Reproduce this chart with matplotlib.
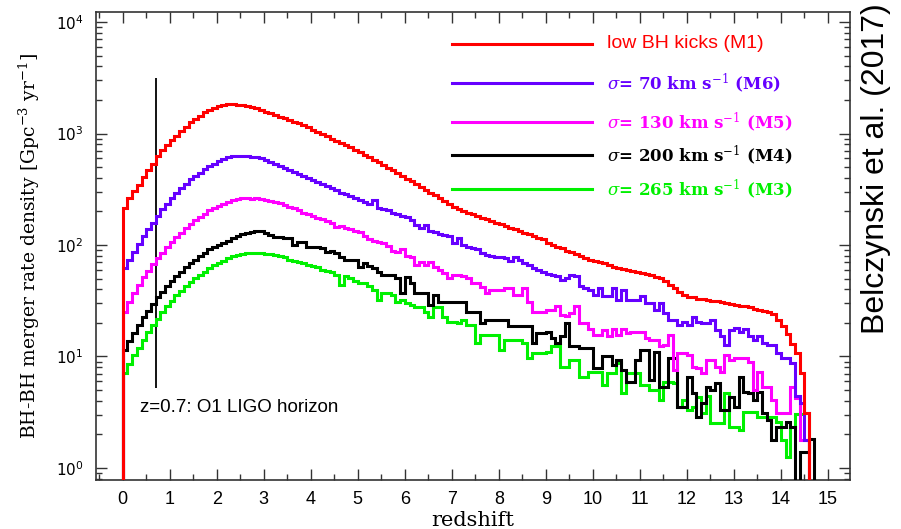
import numpy as np
import matplotlib
matplotlib.use('Agg')
import matplotlib.pyplot as plt
from matplotlib.ticker import MultipleLocator, LogLocator, LogFormatterMathtext, NullFormatter

plt.rcParams['mathtext.fontset'] = 'dejavuserif'

# merger rate per redshift bin, stored as log10(rate / Gpc^-3 yr^-1), bins of 0.1 from z=0
bin_width = 0.1

log_rate_m1 = [
    2.33, 2.42, 2.48, 2.54, 2.61, 2.67, 2.73, 2.80, 2.85, 2.90,
    2.94, 2.98, 3.02, 3.06, 3.10, 3.13, 3.16, 3.19, 3.21, 3.23,
    3.245, 3.255, 3.265, 3.265, 3.26, 3.255, 3.245, 3.235, 3.225, 3.21,
    3.195, 3.18, 3.165, 3.15, 3.135, 3.12, 3.105, 3.09, 3.075, 3.06,
    3.03, 3.015, 2.995, 2.975, 2.955, 2.935, 2.915, 2.895, 2.875, 2.855,
    2.835, 2.81, 2.79, 2.765, 2.745, 2.72, 2.695, 2.67, 2.645, 2.62,
    2.595, 2.57, 2.545, 2.52, 2.495, 2.47, 2.445, 2.42, 2.395, 2.37,
    2.345, 2.325, 2.305, 2.29, 2.275, 2.26, 2.245, 2.23, 2.215, 2.20,
    2.185, 2.17, 2.155, 2.14, 2.125, 2.11, 2.095, 2.08, 2.065, 2.05,
    2.02, 2.00, 1.985, 1.97, 1.95, 1.935, 1.915, 1.90, 1.885, 1.87,
    1.855, 1.845, 1.835, 1.82, 1.805, 1.795, 1.785, 1.775, 1.765, 1.76,
    1.75, 1.74, 1.73, 1.715, 1.70, 1.675, 1.645, 1.61, 1.58, 1.555,
    1.535, 1.53, 1.52, 1.515, 1.51, 1.50, 1.495, 1.49, 1.48, 1.47,
    1.46, 1.455, 1.45, 1.44, 1.43, 1.42, 1.41, 1.40, 1.38, 1.33,
    1.27, 1.20, 1.11, 1.03, 0.85, 0.49,
]

log_rate_m6 = [
    1.79, 1.87, 1.94, 2.01, 2.08, 2.14, 2.20, 2.26, 2.32, 2.37,
    2.42, 2.47, 2.51, 2.55, 2.59, 2.62, 2.65, 2.68, 2.71, 2.73,
    2.75, 2.77, 2.785, 2.795, 2.80, 2.80, 2.795, 2.79, 2.785, 2.78,
    2.76, 2.745, 2.73, 2.71, 2.69, 2.675, 2.655, 2.635, 2.615, 2.60,
    2.585, 2.565, 2.545, 2.53, 2.51, 2.495, 2.465, 2.46, 2.44, 2.42,
    2.40, 2.385, 2.37, 2.40, 2.335, 2.32, 2.31, 2.29, 2.275, 2.26,
    2.25, 2.22, 2.18, 2.15, 2.18, 2.13, 2.12, 2.10, 2.09, 2.085,
    2.02, 2.06, 2.00, 1.98, 1.97, 1.96, 1.93, 1.91, 1.90, 1.89,
    1.89, 1.88, 1.86, 1.89, 1.87, 1.84, 1.82, 1.79, 1.78, 1.76,
    1.74, 1.73, 1.72, 1.69, 1.70, 1.73, 1.72, 1.63, 1.61, 1.60,
    1.55, 1.61, 1.54, 1.54, 1.61, 1.51, 1.60, 1.51, 1.51, 1.51,
    1.54, 1.48, 1.48, 1.42, 1.48, 1.39, 1.33, 1.33, 1.28, 1.31,
    1.28, 1.35, 1.31, 1.30, 1.30, 1.33, 1.24, 1.18, 1.10, 1.24,
    1.26, 1.22, 1.25, 1.18, 1.15, 1.18, 1.12, 1.10, 1.10, 1.03,
    0.99, 0.99, 0.94, 0.65, 0.58, 0.25,
]

log_rate_m5 = [
    1.40, 1.49, 1.57, 1.64, 1.71, 1.77, 1.83, 1.88, 1.93, 1.98,
    2.03, 2.07, 2.11, 2.15, 2.19, 2.22, 2.25, 2.28, 2.31, 2.33,
    2.35, 2.37, 2.39, 2.405, 2.415, 2.42, 2.42, 2.415, 2.42, 2.41,
    2.40, 2.395, 2.385, 2.375, 2.36, 2.345, 2.33, 2.315, 2.29, 2.275,
    2.26, 2.245, 2.23, 2.215, 2.20, 2.16, 2.17, 2.155, 2.14, 2.13,
    2.12, 2.08, 2.05, 2.04, 2.03, 2.02, 1.99, 1.95, 1.94, 1.96,
    1.90, 1.89, 1.82, 1.85, 1.82, 1.85, 1.80, 1.78, 1.75, 1.70,
    1.73, 1.73, 1.72, 1.70, 1.66, 1.66, 1.62, 1.57, 1.60, 1.60,
    1.60, 1.61, 1.61, 1.55, 1.55, 1.61, 1.49, 1.40, 1.40, 1.40,
    1.42, 1.42, 1.45, 1.37, 1.36, 1.39, 1.45, 1.30, 1.30, 1.25,
    1.19, 1.19, 1.24, 1.18, 1.25, 1.19, 1.25, 1.21, 1.22, 1.22,
    1.22, 1.17, 1.15, 1.15, 1.09, 1.10, 1.19, 0.88, 1.03, 1.03,
    1.01, 0.91, 0.90, 0.85, 0.97, 0.97, 0.91, 0.86, 1.01, 0.97,
    0.99, 0.99, 0.99, 0.95, 0.70, 0.86, 0.73, 0.73, 0.61, 0.49,
    0.49, 0.49, 0.73, 0.63, 0.25, 0.25,
]

# -3 marks an empty bin (falls below the axis)
log_rate_m4 = [
    1.06, 1.14, 1.21, 1.28, 1.35, 1.41, 1.47, 1.53, 1.58, 1.63,
    1.68, 1.72, 1.76, 1.80, 1.84, 1.87, 1.90, 1.93, 1.96, 1.98,
    2.00, 2.02, 2.04, 2.06, 2.08, 2.095, 2.11, 2.115, 2.125, 2.13,
    2.11, 2.09, 2.07, 2.07, 2.06, 2.06, 2.00, 2.03, 2.03, 1.98,
    1.98, 1.98, 1.97, 1.94, 1.95, 1.93, 1.89, 1.87, 1.87, 1.87,
    1.80, 1.84, 1.81, 1.79, 1.76, 1.73, 1.73, 1.73, 1.70, 1.57,
    1.71, 1.66, 1.57, 1.57, 1.57, 1.46, 1.55, 1.49, 1.49, 1.49,
    1.49, 1.49, 1.49, 1.40, 1.40, 1.40, 1.30, 1.33, 1.33, 1.33,
    1.33, 1.33, 1.27, 1.27, 1.27, 1.27, 1.27, 1.12, 1.21, 1.21,
    1.22, 1.17, 1.12, 1.18, 1.30, 1.09, 1.09, 1.08, 1.08, 1.08,
    0.90, 0.90, 1.00, 1.00, 0.92, 0.97, 0.88, 0.77, 0.77, 0.97,
    1.06, 1.06, 0.79, 1.04, 0.73, 0.73, 0.99, 0.99, 0.55, 0.55,
    0.82, 0.67, 0.46, 0.58, 0.73, 0.70, 0.76, 0.52, 0.52, 0.64,
    0.55, 0.82, 0.68, 0.67, 0.61, 0.68, 0.49, 0.43, 0.25, 0.37,
    0.37, 0.41, 0.37, -3.0, 0.14, 0.14, 0.26,
]

log_rate_m3 = [
    0.85, 0.93, 1.01, 1.08, 1.15, 1.22, 1.28, 1.34, 1.40, 1.45,
    1.50, 1.55, 1.59, 1.63, 1.67, 1.70, 1.73, 1.76, 1.79, 1.82,
    1.84, 1.86, 1.88, 1.90, 1.91, 1.92, 1.925, 1.93, 1.93, 1.925,
    1.92, 1.915, 1.91, 1.90, 1.89, 1.87, 1.86, 1.85, 1.84, 1.82,
    1.81, 1.80, 1.78, 1.77, 1.76, 1.73, 1.64, 1.72, 1.70, 1.68,
    1.66, 1.66, 1.63, 1.60, 1.51, 1.57, 1.57, 1.55, 1.49, 1.51,
    1.48, 1.46, 1.44, 1.44, 1.40, 1.35, 1.44, 1.44, 1.35, 1.31,
    1.31, 1.30, 1.33, 1.28, 1.28, 1.12, 1.19, 1.19, 1.19, 1.19,
    1.06, 1.15, 1.15, 1.15, 1.15, 1.12, 0.99, 1.03, 1.03, 1.03,
    1.04, 1.09, 1.09, 0.91, 0.91, 0.97, 0.97, 0.82, 0.82, 0.86,
    0.86, 0.86, 0.74, 0.85, 0.85, 0.94, 0.67, 0.85, 0.85, 0.85,
    0.74, 0.74, 0.70, 0.70, 0.61, 0.77, 0.77, 0.76, 0.55, 0.61,
    0.52, 0.55, 0.64, 0.49, 0.65, 0.40, 0.40, 0.40, 0.67, 0.37,
    0.37, 0.34, 0.50, 0.50, 0.50, 0.46, 0.46, 0.46, 0.46, 0.41,
    0.25, 0.10, 0.37, 0.48, 0.48, 0.49,
]

labels = ['low BH kicks (M1)',
          r'$\sigma$= 70 km s$^{-1}$ (M6)',
          r'$\sigma$= 130 km s$^{-1}$ (M5)',
          r'$\sigma$= 200 km s$^{-1}$ (M4)',
          r'$\sigma$= 265 km s$^{-1}$ (M3)']
colors = ['#ff0000', '#6600ff', '#ff00ff', '#000000', '#00f000']
all_logs = [log_rate_m1, log_rate_m6, log_rate_m5, log_rate_m4, log_rate_m3]

horizon_z = 0.7
horizon_range = (5.2, 3160)

fig = plt.figure(figsize=(9.01, 5.29), dpi=100)
ax = fig.add_axes([0.1065, 0.0926, 0.8369, 0.8847])

# draw from the bottom curve up so red ends on top
for i in range(len(all_logs) - 1, -1, -1):
    rates = 10.0 ** np.array(all_logs[i])
    edges = np.arange(len(rates) + 1) * bin_width
    ax.stairs(rates, edges, baseline=1e-3, color=colors[i], lw=2.2, zorder=3 + (5 - i))

ax.vlines(horizon_z, horizon_range[0], horizon_range[1], color='black', lw=1.3, zorder=2)
ax.text(0.36, 3.5, 'z=0.7: O1 LIGO horizon', family='Liberation Sans',
        fontsize=13.5, va='center')

# legend drawn by hand, PGPLOT style
legend_y = [0.932, 0.848, 0.765, 0.694, 0.622]
for i in range(5):
    ax.plot([0.472, 0.658], [legend_y[i], legend_y[i]], transform=ax.transAxes,
            color=colors[i], lw=2.2)
    if i == 0:
        ax.text(0.678, legend_y[i], labels[i], transform=ax.transAxes, va='center',
                color=colors[i], family='Liberation Sans', fontsize=14)
    else:
        ax.text(0.678, legend_y[i], labels[i], transform=ax.transAxes, va='center',
                color=colors[i], family='DejaVu Serif', fontweight='bold', fontsize=12)

ax.set_yscale('log')
ax.set_xlim(-0.57, 15.47)
ax.set_ylim(0.78, 12300)

ax.xaxis.set_major_locator(MultipleLocator(1))
ax.xaxis.set_minor_locator(MultipleLocator(0.5))
ax.yaxis.set_major_locator(LogLocator(base=10, numticks=10))
ax.yaxis.set_minor_locator(LogLocator(base=10, subs=np.arange(2, 10), numticks=20))
ax.yaxis.set_major_formatter(LogFormatterMathtext())
ax.yaxis.set_minor_formatter(NullFormatter())

ax.tick_params(which='both', direction='in', top=True, right=True, width=1, color='#333333')
ax.tick_params(which='major', length=8)
ax.tick_params(which='minor', length=4)
ax.tick_params(axis='x', labelsize=13, pad=8, labelfontfamily='Liberation Sans')
ax.tick_params(axis='y', labelsize=11, pad=9)

for sp in ax.spines.values():
    sp.set_linewidth(1.2)
    sp.set_color('#333333')

ax.set_xlabel('redshift', family='DejaVu Serif', fontsize=15)
ax.set_ylabel('BH-BH merger rate density [Gpc$^{-3}$ yr$^{-1}$]', family='DejaVu Serif', fontsize=13.5)
ax.xaxis.set_label_coords(0.5, -0.066)
ax.yaxis.set_label_coords(-0.072, 0.5)

fig.text(0.972, 0.682, 'Belczynski et al. (2017)', rotation=90, family='Liberation Sans',
         fontsize=23, ha='center', va='center')

fig.savefig('out.png', dpi=100)
